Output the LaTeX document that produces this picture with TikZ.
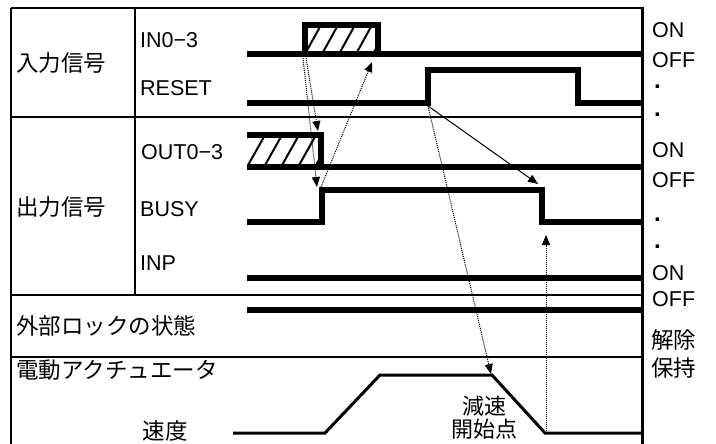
\documentclass[tikz,border=0pt]{standalone}
\usepackage{fontspec}
\setmainfont{Liberation Sans}
\newfontfamily\jpfont{Noto Sans CJK JP}
\usepackage{tikz}
\usetikzlibrary{arrows.meta, positioning, calc}

\begin{document}
\begin{tikzpicture}[
  x=1pt, y=-1pt,
  rule/.style={line width=1.5pt},
  vrule/.style={line width=2.5pt},
  sig/.style={line width=6pt},
  speedline/.style={line width=3pt},
  hatch/.style={line width=2pt},
  lbl/.style={anchor=west, inner sep=0pt, font=\fontsize{21.5}{24}\selectfont},
  jlbl/.style={anchor=west, inner sep=0pt, font=\jpfont\fontsize{22.5}{24}\selectfont},
  tick/.style={anchor=west, inner sep=0pt, font=\bfseries\fontsize{24}{24}\selectfont},
  arrow/.style={-{Triangle[length=10pt,width=8pt]}, line width=1pt},
  hint/.style={arrow, densely dotted},
]
  \useasboundingbox (0,0) rectangle (716,444);

  % frame
  \draw[rule] (11,8) -- (642,8);
  \draw[rule] (11,117) -- (642,117);
  \draw[rule] (11,295) -- (642,295);
  \draw[rule] (11,357) -- (642,357);
  \draw[vrule] (11,8) -- (11,444);
  \draw[vrule] (135,8) -- (135,295);
  \draw[line width=3pt] (642,7) -- (642,444);

  % labels
  \node[jlbl] (inGroup) at (16,63) {入力信号};
  \node[jlbl] (outGroup) at (16,207) {出力信号};
  \node[jlbl] (lock) at (16,326) {外部ロックの状態};
  \node[jlbl] (actuator) at (16,370) {電動アクチュエータ};
  \node[jlbl, anchor=center] (speedLbl) at (165,431) {速度};
  \node[lbl] (in03) at (140,40) {IN0−3};
  \node[lbl] (reset) at (140,88) {RESET};
  \node[lbl] (out03) at (141,152) {OUT0−3};
  \node[lbl] (busy) at (140,209) {BUSY};
  \node[lbl] (inp) at (140,263) {INP};

  % states
  \node[lbl] (on1) at (652,30) {ON};
  \node[lbl] (off1) at (652,60) {OFF};
  \node[tick] (dot1) at (654,87) {.};
  \node[tick] (dot2) at (654,115) {.};
  \node[lbl] (on2) at (652,150) {ON};
  \node[lbl] (off2) at (652,180) {OFF};
  \node[tick] (dot3) at (654,220) {.};
  \node[tick] (dot4) at (654,247) {.};
  \node[lbl] (on3) at (652,273) {ON};
  \node[lbl] (off3) at (652,299) {OFF};
  \node[jlbl] (release) at (651,340) {解除};
  \node[jlbl] (hold) at (651,368) {保持};

  % hatched data
  \begin{scope}
    \clip (305,25) rectangle (378,54);
    \foreach \x in {288,305,...,390} \draw[hatch] (\x,54) -- ++(16,-29);
  \end{scope}
  \begin{scope}
    \clip (247,135) rectangle (321,167);
    \foreach \x in {230,247,...,330} \draw[hatch] (\x,167) -- ++(18,-32);
  \end{scope}

  % signals
  \draw[sig] (247,54) -- (642,54);
  \draw[sig] (305,54) -- (305,25) -- (378,25) -- (378,54);
  \draw[sig] (247,103) -- (428,103) -- (428,70) -- (578,70) -- (578,103) -- (642,103);
  \draw[sig] (247,135) -- (321,135) -- (321,167);
  \draw[sig] (247,167) -- (642,167);
  \draw[sig] (247,222) -- (322,222) -- (322,190) -- (542,190) -- (542,222) -- (642,222);
  \draw[sig] (247,278) -- (642,278);
  \draw[sig] (247,310) -- (642,310);
  \draw[speedline] (233,433) -- (325,433) -- (380,375) -- (492,375) -- (545,433) -- (642,433);

  \node[align=center, inner sep=0pt, font=\jpfont\fontsize{22}{23}\selectfont] (decel) at (484,418) {減速\\開始点};

  % timing points
  \coordinate (inRiseA) at (306,58);
  \coordinate (inRiseB) at (303,58);
  \coordinate (outFall) at (318,131);
  \coordinate (busyRise) at (317,187);
  \coordinate (busyFoot) at (321,187);
  \coordinate (inFall) at (372,62);
  \coordinate (resetRise) at (428,106);
  \coordinate (busyFall) at (538,184);
  \coordinate (decelPt) at (491,374);
  \coordinate (stopPt) at (546,433);
  \coordinate (busyLow) at (546,235);

  \draw[hint] (inRiseA) -- (outFall);
  \draw[hint] (inRiseB) -- (busyRise);
  \draw[hint] (busyFoot) -- (inFall);
  \draw[arrow] (resetRise) -- (busyFall);
  \draw[hint] (resetRise) -- (decelPt);
  \draw[hint] (stopPt) -- (busyLow);
\end{tikzpicture}
\end{document}
